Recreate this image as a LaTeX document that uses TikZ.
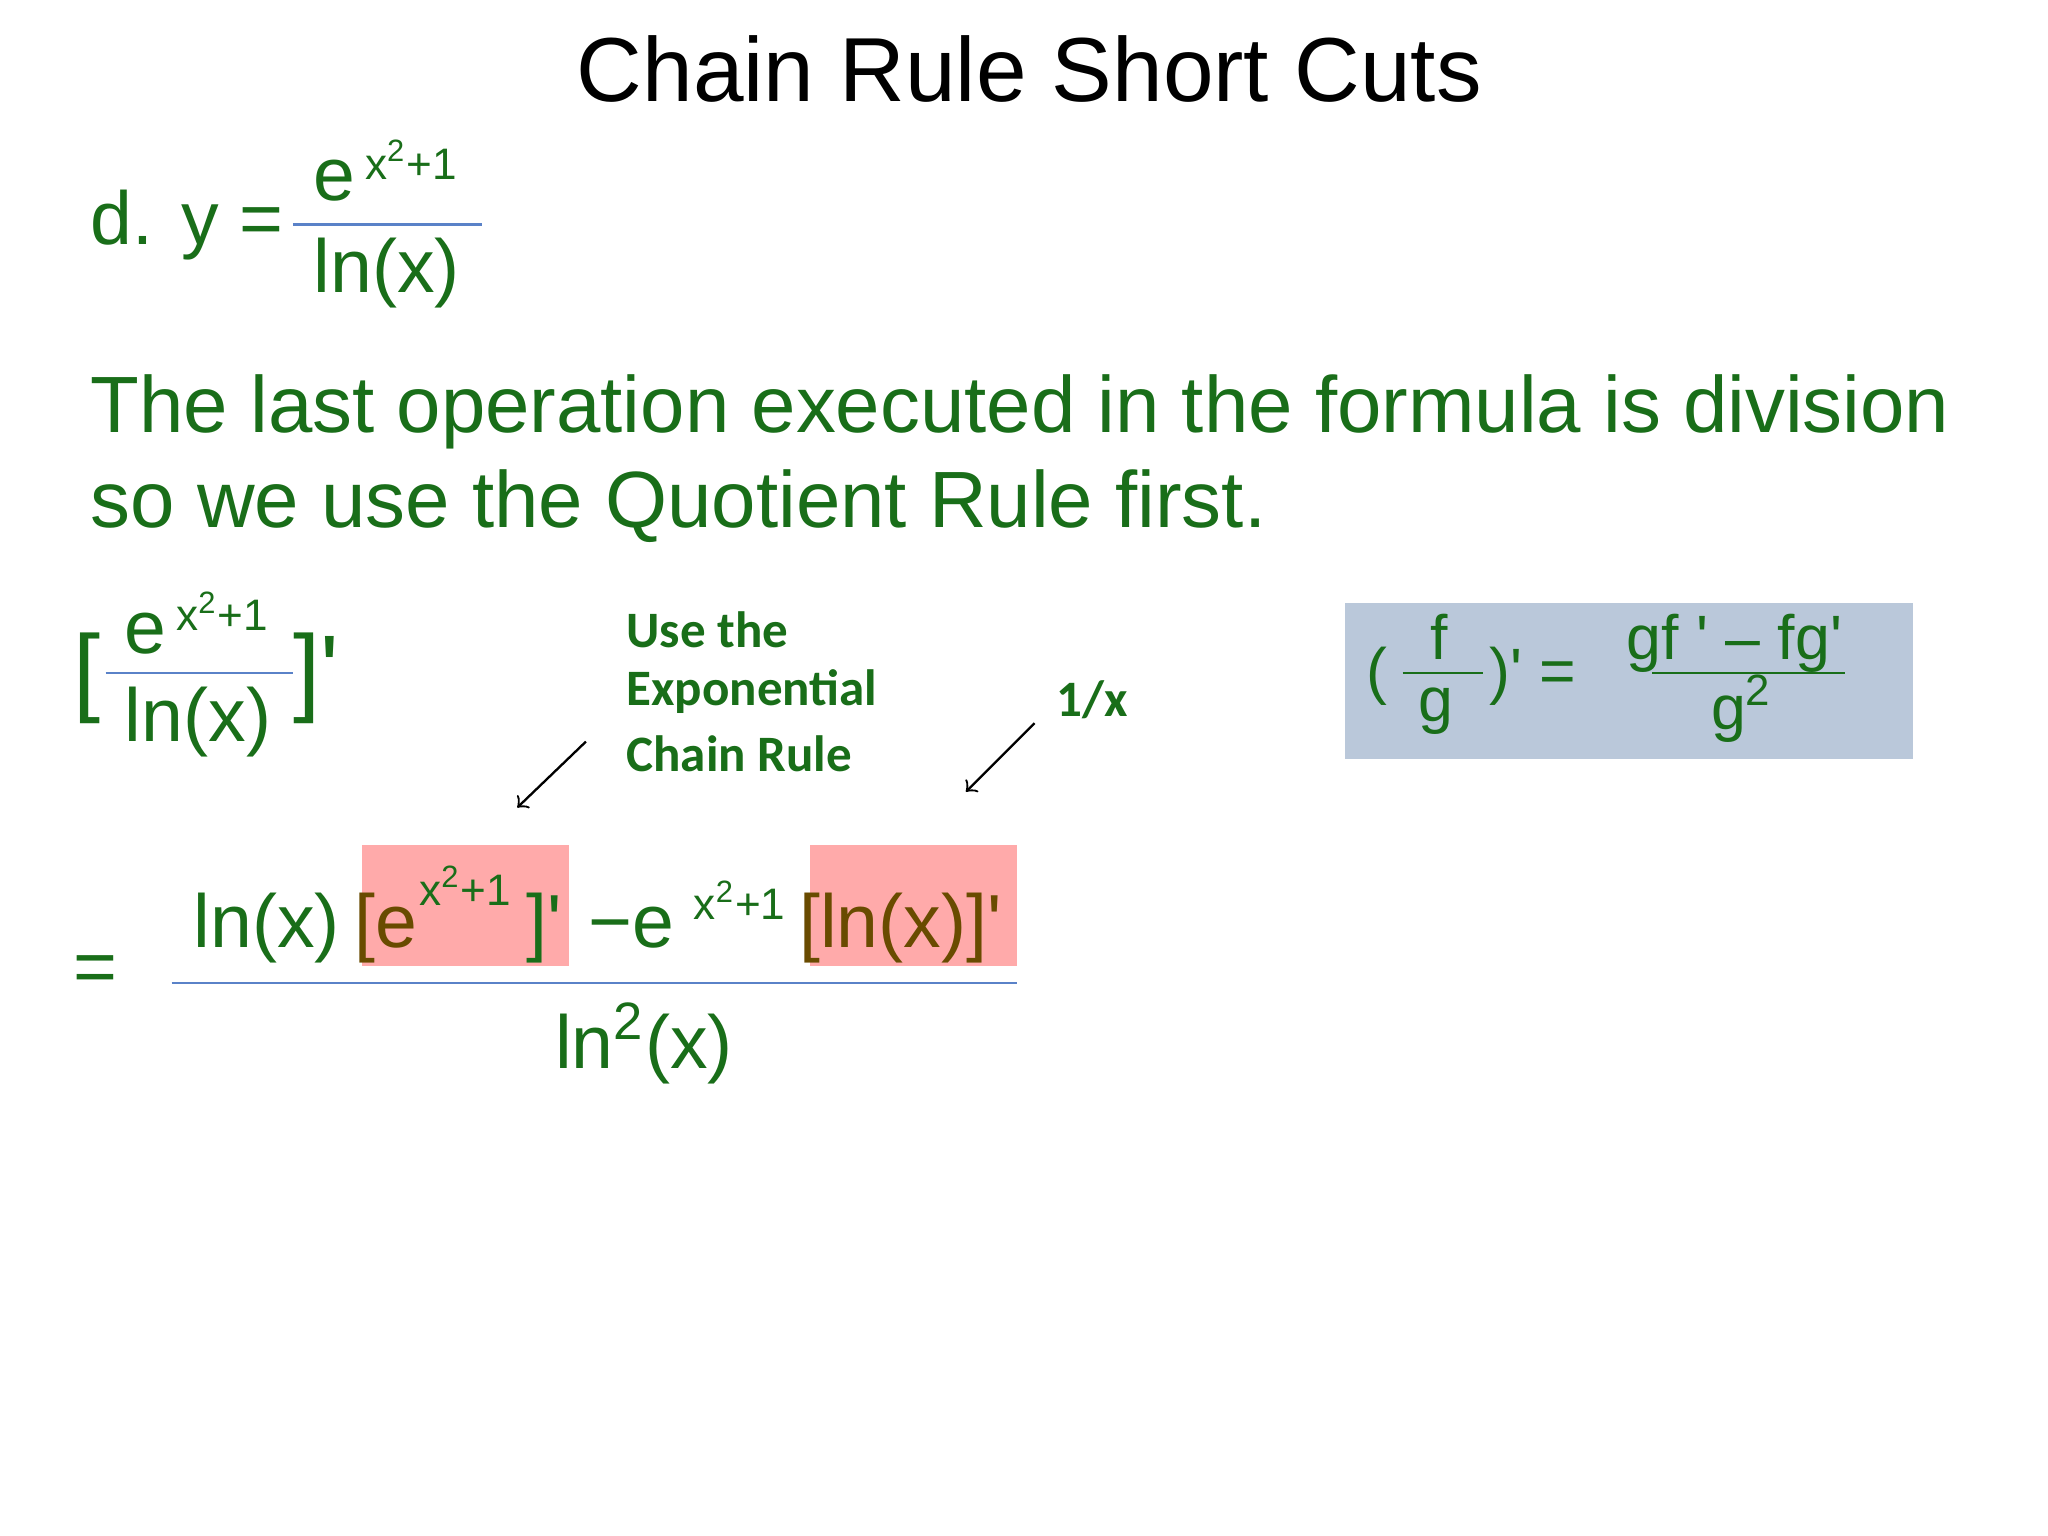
\documentclass[tikz,border=0pt]{standalone}
\usepackage{fontspec}
\setmainfont{Liberation Sans}
\newfontfamily\calib{Carlito}
\newcommand{\pr}{\textquotesingle}
\definecolor{tg}{RGB}{25,110,25}
\definecolor{pinkb}{RGB}{255,170,170}
\definecolor{blueb}{RGB}{186,200,218}
\definecolor{brn}{RGB}{105,75,0}
\definecolor{fl}{RGB}{90,130,200}
\begin{document}
\begin{tikzpicture}[x=0.01cm,y=-0.01cm,
  tx/.style={inner sep=0,text=tg,font=\fontsize{16.2}{19}\selectfont},
  sup/.style={inner sep=0,text=tg,font=\fontsize{9.5}{12}\selectfont},
  bx/.style={inner sep=0,text=tg,font=\fontsize{13.5}{16}\selectfont},
  ann/.style={inner sep=0,text=tg,anchor=west,font=\calib\bfseries\fontsize{11}{13}\selectfont},
  fline/.style={draw=fl,line width=0.6pt},
  arr/.style={->,black,line width=0.5pt}]
\useasboundingbox (0,0) rectangle (1552,1164);
\fill[white] (0,0) rectangle (1552,1164);
\node[inner sep=0,font=\fontsize{19.6}{24}\selectfont] (title) at (780,52) {Chain Rule Short Cuts};
% d.
\node[tx,anchor=base west] (d) at (68,185) {d. y =};
\node[tx,anchor=base west] (e1) at (237,152) {e};
\node[sup,anchor=base west] (e1s) at (276,136) {x\textsuperscript{2}+1};
\draw[fline] (222,170) coordinate (f1a) -- (365,170) coordinate (f1b);
\node[tx,anchor=base west] (ln1) at (237,222) {ln(x)};
% paragraph
\node[tx,anchor=base west,font=\fontsize{17.2}{20}\selectfont] (p1) at (68,328) {The last operation executed in the formula is division};
\node[tx,anchor=base west,font=\fontsize{17.2}{20}\selectfont] (p2) at (68,400) {so we use the Quotient Rule first.};
% bracket fraction
\node[tx,anchor=base west,font=\fontsize{21}{26}\selectfont] (lb) at (55,533) {[};
\node[tx,anchor=base west] (e2) at (94,495) {e};
\node[sup,anchor=base west] (e2s) at (133,478) {x\textsuperscript{2}+1};
\draw[fline] (80,510) -- (222,510);
\node[tx,anchor=base west] (ln2) at (94,562) {ln(x)};
\node[tx,anchor=base west,font=\fontsize{21}{26}\selectfont] (rb) at (222,533) {]\pr};
% annotations
\node[ann] (a1) at (474,477) {Use the};
\node[ann] (a2) at (474,524) {Exponential};
\node[ann] (a3) at (474,571) {Chain Rule};
\coordinate (a1s) at (444,562); \coordinate (a1e) at (392,612);
\draw[arr] (a1s) -- (a1e);
\node[ann] (b1) at (800,530) {1/x};
\coordinate (b1s) at (784,548); \coordinate (b1e) at (732,600);
\draw[arr] (b1s) -- (b1e);
% blue box
\fill[blueb] (1019,457) rectangle (1450,575);
\node[bx,anchor=base west] (q1) at (1035,525) {(};
\node[bx,anchor=base west] (qf) at (1083,500) {f};
\draw[draw=tg,line width=0.6pt] (1063,510) -- (1124,510);
\node[bx,anchor=base west] (qg) at (1074,547) {g};
\node[bx,anchor=base west] (q2) at (1128,525) {)\pr\ =};
\node[bx,anchor=base west] (qn) at (1232,500) {gf \pr\ -- fg\pr};
\draw[draw=tg,line width=0.6pt] (1252,510) -- (1398,510);
\node[bx,anchor=base west] (qd) at (1296,553) {g\textsuperscript{2}};
% pink boxes
\fill[pinkb] (274,640) rectangle (431,732);
\fill[pinkb] (614,640) rectangle (771,732);
\node[tx,anchor=base west] (eq) at (55,752) {=};
\node[tx,anchor=base west] (n1) at (146,718) {ln(x)};
\node[tx,anchor=base west,text=brn] (n2) at (268,718) {[e};
\node[sup,anchor=base west] (n2s) at (317,686) {x\textsuperscript{2}+1};
\node[tx,anchor=base west] (n3) at (398,718) {]\pr};
\node[tx,anchor=base west] (n4) at (445,718) {\textminus e};
\node[sup,anchor=base west] (n4s) at (525,697) {x\textsuperscript{2}+1};
\node[tx,anchor=base west,text=brn] (n5) at (605,718) {[ln(x)]\pr};
\draw[fline] (130,745) -- (771,745);
\node[tx,anchor=base west] (den) at (420,810) {ln\textsuperscript{2}(x)};
\end{tikzpicture}
\end{document}
